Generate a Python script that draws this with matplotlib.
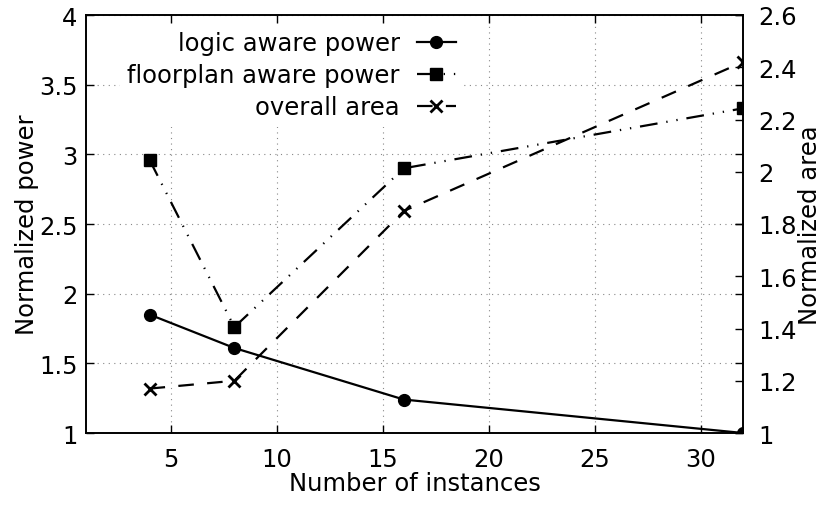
import matplotlib
matplotlib.use("Agg")
import matplotlib.pyplot as plt

# instance counts and normalized metrics
instances = [4, 8, 16, 32]
logic_power = [1.85, 1.61, 1.24, 1.00]
floorplan_power = [2.96, 1.76, 2.90, 3.33]
overall_area = [1.17, 1.20, 1.85, 2.42]

x_ticks = [5, 10, 15, 20, 25, 30]
y1_ticks = [1, 1.5, 2, 2.5, 3, 3.5, 4]
y2_ticks = [1, 1.2, 1.4, 1.6, 1.8, 2, 2.2, 2.4, 2.6]

plt.rcParams["font.family"] = "DejaVu Sans"
FS = 17.5

fig = plt.figure(figsize=(8.22, 5.06), dpi=100)
ax = fig.add_axes([86 / 822, 1 - 434 / 506, (743 - 86) / 822, (434 - 16) / 506])
ax2 = ax.twinx()

ax.plot(instances, logic_power, color="black", lw=1.6, marker="o", ms=8.5,
        label="logic aware power")
ax.plot(instances, floorplan_power, color="black", lw=1.6, marker="s", ms=8.5,
        linestyle=(0, (8, 4, 0.6, 4, 0.6, 4)), label="floorplan aware power")
ax2.plot(instances, overall_area, color="black", lw=1.6, marker="x", ms=8, mew=2,
         linestyle=(0, (7, 6)), label="overall area")

ax.set_xlim(1, 32)
ax.set_ylim(1, 4)
ax2.set_ylim(1, 2.6)
ax.set_xticks(x_ticks)
ax.set_yticks(y1_ticks)
ax2.set_yticks(y2_ticks)
ax.set_yticklabels([f"{v:g}" for v in y1_ticks])
ax2.set_yticklabels([f"{v:g}" for v in y2_ticks])

ax.grid(True, color="#888888", lw=0.8, linestyle=(0, (1, 4)))
ax.tick_params(direction="in", length=6, width=1, top=True, right=True,
               labelsize=FS)
ax.tick_params(axis="x", pad=10)
ax.tick_params(axis="y", pad=6)
ax2.tick_params(direction="in", length=6, width=1, labelsize=FS, pad=11)
for a in (ax, ax2):
    for sp in a.spines.values():
        sp.set_linewidth(1.2)

ax.set_xlabel("Number of instances", fontsize=FS, labelpad=0)
ax.set_ylabel("Normalized power", fontsize=FS)
ax2.set_ylabel("Normalized area", fontsize=FS)
ax.yaxis.set_label_coords(-0.072, 0.5)
ax2.yaxis.set_label_coords(1.083, 0.5)

handles = ax.get_lines()[:2] + ax2.get_lines()[:1]
leg = ax2.legend(handles, [h.get_label() for h in handles], loc="upper right",
                 bbox_to_anchor=(463 / 822, 1 - 25 / 506),
                 bbox_transform=fig.transFigure, fontsize=FS, markerfirst=False,
                 frameon=True, fancybox=False, borderpad=0.3, handlelength=1.6,
                 handletextpad=0.7, labelspacing=0.33, borderaxespad=0)
leg.get_frame().set_facecolor("white")
leg.get_frame().set_edgecolor("none")
leg.get_frame().set_alpha(1)

fig.savefig("out.png", dpi=100)
